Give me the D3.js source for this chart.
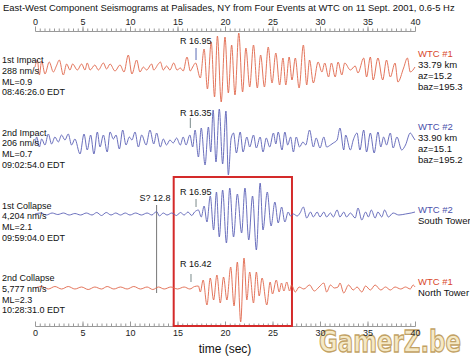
<!DOCTYPE html>
<html><head><meta charset="utf-8">
<script src="https://cdn.jsdelivr.net/npm/d3@7"></script>
<style>
body{margin:0;background:#fff;}
svg{display:block;font-family:"Liberation Sans",Arial,Helvetica,sans-serif;}
</style></head>
<body><svg id="c" width="470" height="360"></svg>
<script>
// ---------- data ----------
const title = "East-West Component Seismograms at Palisades, NY from Four Events at WTC on 11 Sept. 2001, 0.6-5 Hz";
const majorTicks = [0,5,10,15,20,25,30,35,40];
const eventNames = ["1st Impact","2nd Impact","1st Collapse","2nd Collapse"];
const peakAmps = ["288 nm/s","206 nm/s","4,204 nm/s","5,777 nm/s"];
const magnitudes = ["ML=0.9","ML=0.7","ML=2.1","ML=2.3"];
const originTimes = ["08:46:26.0 EDT","09:02:54.0 EDT","09:59:04.0 EDT","10:28:31.0 EDT"];
const sourceNames = ["WTC #1","WTC #2","WTC #2","WTC #1"];
const sourceInfo = [["33.79 km","az=15.2","baz=195.3"],["33.90 km","az=15.1","baz=195.2"],["South Tower"],["North Tower"]];
const rPicks = [16.95,16.35,16.95,16.42];
const sPick = 12.8;
const highlight = [14.6,27.05];

// waveforms: [time (s), relative amplitude]
const impact1Wave = [[0,0],[0.25,7],[0.46,-8],[0.7,6],[1.05,-7],[1.5,5],[1.93,-5],[2.25,1],[2.56,7],[2.98,-8],[3.33,3],[3.68,-3],[3.96,3],[4.46,-3],[4.91,3],[5.26,-3],[5.5,4],[5.8,-3],[6.3,2],[6.67,-3],[7.2,4],[7.54,-2],[7.9,3],[8.42,-4],[8.95,2],[9.37,-5],[9.82,12],[10.2,-7],[10.7,7],[11.05,-5],[11.4,0],[11.75,-3],[12.28,3],[12.5,-3],[12.98,3],[13.2,5],[13.5,-3],[13.85,1],[14.2,-3],[14.6,4],[14.95,-3],[15.3,-1],[15.6,-4],[16.0,10],[16.35,-4],[16.6,0],[16.9,4],[17.4,-11],[17.8,18],[18.15,-22],[18.55,25],[18.9,-30],[19.2,31],[19.6,-35],[20.0,30],[20.35,-26],[20.7,22],[21.05,-28],[21.45,34],[21.85,-25],[22.2,19],[22.6,-20],[23.0,22],[23.4,-21],[23.75,12],[24.15,-20],[24.55,20],[24.95,-16],[25.35,14],[25.75,-18],[26.1,9],[26.4,-18],[26.75,10],[27.05,-13],[27.4,9],[27.8,-21],[28.25,22],[28.6,-18],[28.9,7],[29.3,-16],[29.8,5],[30.2,-5],[30.5,4],[30.9,-10],[31.2,4],[31.6,-10],[31.9,5],[32.3,-8],[32.6,4],[33.2,-3],[33.7,1],[34.0,-6],[34.6,9],[34.9,-10],[35.3,10],[35.6,-13],[36.1,9],[36.6,-13],[37.0,7],[37.4,-10],[37.9,4],[38.2,-15],[38.8,-1],[39.2,9],[39.5,-5],[40,0]];
const impact2Wave = [[0,-3],[0.18,5],[0.46,-5],[0.7,3],[1.05,-3],[1.4,8],[1.75,-2],[2.1,5],[2.45,0],[2.8,7],[3.15,2],[3.5,8],[3.85,-3],[4.2,3],[4.74,-12],[5.16,8],[5.5,-8],[5.86,7],[6.2,-12],[6.56,10],[6.84,-5],[7.2,7],[7.6,-10],[7.9,10],[8.25,3],[8.53,7],[8.88,-7],[9.23,12],[9.58,-3],[9.93,5],[10.2,2],[10.53,10],[10.88,-5],[11.23,7],[11.7,-3],[12.1,12],[12.5,-2],[12.8,9],[13.2,-5],[13.5,3],[13.85,-3],[14.2,2],[14.55,-1],[14.9,4],[15.3,-3],[15.6,5],[15.9,-3],[16.3,7],[16.6,-5],[16.85,12],[17.2,-15],[17.5,14],[17.9,-23],[18.25,15],[18.5,-10],[18.75,32],[19.05,-20],[19.4,33],[19.75,-22],[20.1,31],[20.35,-33],[20.65,4],[20.9,9],[21.2,-11],[21.6,10],[21.9,-10],[22.3,5],[22.6,-5],[23.0,7],[23.3,-6],[23.7,5],[24.0,-10],[24.35,4],[24.7,-5],[25.1,9],[25.35,-2],[25.6,10],[26.0,-8],[26.3,10],[26.6,-3],[26.9,5],[27.2,-10],[27.5,5],[27.85,-5],[28.2,0],[28.5,-3],[28.9,12],[29.3,-5],[29.6,4],[30.0,-6],[30.4,5],[30.7,-5],[31.1,-3],[31.4,-1],[31.8,2],[32.1,14],[32.5,-8],[32.7,7],[33.2,-8],[33.5,2],[33.9,9],[34.2,-8],[34.6,12],[34.9,-10],[35.3,9],[35.7,-11],[36.1,10],[36.4,-5],[36.7,5],[37.0,-3],[37.4,9],[37.7,-6],[38.1,5],[38.6,-8],[39.0,-3],[39.5,9],[39.8,5],[40,2]];
const collapse1Wave = [[0,0],[0.6,1],[1.2,-1],[1.8,1],[2.4,-0.5],[3.0,1],[3.6,-1],[4.2,0.5],[4.8,-1],[5.4,1],[6.0,-1],[6.5,1.5],[7.0,-1.5],[7.5,1.5],[8.0,-1],[8.5,1],[9.0,-1],[9.5,1],[10.0,-1],[10.6,1],[11.2,-1],[11.8,1],[12.3,-1],[12.8,2.5],[13.1,-2],[13.5,1],[13.9,-1],[14.4,1],[14.9,-1.5],[15.3,1.5],[15.7,-1],[16.1,2],[16.5,-1.5],[16.8,2],[17.2,4],[17.5,-3],[17.8,8],[18.1,-8],[18.45,18],[18.8,-16],[19.1,22],[19.4,-23],[19.75,24],[20.15,-29],[20.5,26],[20.9,-23],[21.3,20],[21.75,-19],[22.1,26],[22.5,-26],[22.9,18],[23.3,-36],[23.7,31],[24.0,-16],[24.45,22],[24.85,-12],[25.25,12],[25.6,-9],[25.96,7],[26.3,-8],[26.65,2],[26.9,-2],[27.2,0],[27.6,-2],[27.9,1],[28.25,7],[28.6,-4],[29.0,2],[29.3,-3],[29.7,2],[30.0,-3],[30.4,2],[30.7,-3],[31.1,1],[31.4,-3],[31.8,4],[32.1,-3],[32.5,2],[32.8,-3],[33.2,1],[33.7,-4],[34.0,6],[34.4,-6],[34.8,2],[35.1,-3],[35.4,4],[35.8,-4],[36.1,2],[36.5,-3],[36.8,4],[37.2,-3],[37.7,1],[38.3,-1],[39.0,0],[39.6,1],[40,2]];
const collapse2Wave = [[0,0],[0.7,1.5],[1.4,-1],[2.1,1.5],[2.8,-1],[3.5,1.5],[4.2,-1],[4.9,1],[5.6,-1.5],[6.3,1],[7.0,-1],[7.6,1.5],[8.3,-1],[9.0,1],[9.7,-1],[10.4,1.5],[11.1,-1],[11.8,1],[12.4,-1.5],[13.0,1],[13.6,-1],[14.3,1],[15.0,-1],[15.7,1],[16.3,-1],[16.8,1.5],[17.2,2],[17.4,-4],[17.7,8],[18.1,-17],[18.45,10],[18.8,-12],[19.15,13],[19.5,-15],[19.85,11],[20.2,-12],[20.6,21],[20.95,-18],[21.3,26],[21.65,-34],[22.0,30],[22.3,-12],[22.6,16],[23.0,-15],[23.3,16],[23.6,-8],[23.9,10],[24.4,-17],[24.75,6],[25.0,-6],[25.4,8],[25.7,-4],[25.95,5],[26.2,-3],[26.5,6],[26.8,-3],[27.0,3],[27.4,-4],[27.8,1],[28.3,-1],[28.9,3],[29.4,-3],[29.9,1],[30.4,5],[30.7,-4],[31.1,3],[31.5,0],[31.9,1],[32.1,5],[32.5,-5],[33.0,3],[33.5,-2],[33.9,1],[34.4,-4],[34.8,2],[35.3,-2],[35.8,3],[36.4,-2],[36.9,1],[37.4,-2],[37.9,1],[38.5,-1],[39.0,1],[39.5,-1],[39.8,3],[40,1]];

// ---------- layout ----------
const RED = "#e0654a", BLUE = "#5a60b5";
const waves = [impact1Wave, impact2Wave, collapse1Wave, collapse2Wave];
const colors = [RED, BLUE, BLUE, RED];
const centers = [67, 142, 214, 288];
const leftLabelY = [60, 132.5, 205.5, 278];
const rightLabelY = [53.5, 126.5, 209.5, 282];
const rLabelY = [41, 113, 192, 264];
const rTick = [[48,60],[118,128],[199,207],[274,282]];

const svg = d3.select("#c");
const x = d3.scaleLinear().domain([0,40]).range([35,415]);

// watermark (drawn first, beneath everything); sized to fit 142px wide, stretched vertically
const wm = svg.append("g").attr("transform","translate(319,352) scale(1,1.3)");
const wmt = wm.append("text").attr("x",0).attr("y",0).attr("font-size",20).attr("font-weight","bold")
  .attr("font-family","DejaVu Sans, sans-serif")
  .attr("fill","#f4e6bd").attr("stroke","#b8924a").attr("stroke-width",1).attr("opacity",0.85).text("GamerZ.be");
wmt.attr("font-size", 20 * 142 / wmt.node().getComputedTextLength());

const tt = svg.append("text").attr("x",3).attr("y",10.5).attr("font-size",10).attr("fill","#111").text(title);
const tw = tt.node().getComputedTextLength();
tt.attr("font-size", 10 * 452 / tw);

// axes
function drawAxis(y, top){
  const minor = d3.range(0,40.01,0.5);
  const gMin = svg.append("g").attr("transform",`translate(0,${y})`)
    .call((top?d3.axisTop(x):d3.axisBottom(x)).tickValues(minor).tickSizeInner(top?2.5:-2.5).tickSizeOuter(0).tickFormat(""));
  const gMaj = svg.append("g").attr("transform",`translate(0,${y})`)
    .call((top?d3.axisTop(x):d3.axisBottom(x)).tickValues(majorTicks).tickSizeInner(top?4.5:-4.5).tickSizeOuter(0).tickPadding(top?1.5:4));
  [gMin,gMaj].forEach(g=>{
    g.select(".domain").attr("stroke","#999");
    g.selectAll(".tick line").attr("stroke","#999");
    g.selectAll("text").attr("font-size",9).attr("fill","#222").attr("font-family","Liberation Sans, Arial, sans-serif");
  });
}
drawAxis(31, true);
drawAxis(326, false);

svg.append("text").attr("x",x(20)).attr("y",353).attr("text-anchor","middle")
  .attr("font-size",12).attr("fill","#111").text("time (sec)");

// highlight box
svg.append("rect").attr("x",x(highlight[0])).attr("y",177)
  .attr("width",x(highlight[1])-x(highlight[0])).attr("height",326-177)
  .attr("fill","none").attr("stroke","#d42a2a").attr("stroke-width",2);

// S pick line
svg.append("line").attr("x1",x(sPick)).attr("x2",x(sPick)).attr("y1",205).attr("y2",293)
  .attr("stroke","#777").attr("stroke-width",1);
svg.append("text").attr("x",x(sPick)-17).attr("y",201).attr("font-size",9).attr("fill","#111").text("S? " + sPick);

// traces
waves.forEach((w,i)=>{
  const y = d3.scaleLinear().domain([-36,36]).range([centers[i]+36, centers[i]-36]);
  const line = d3.line().x(d=>x(d[0])).y(d=>y(d[1])).curve(d3.curveMonotoneX);
  svg.append("path").datum(w).attr("d",line).attr("fill","none")
    .attr("stroke",colors[i]).attr("stroke-width",0.9).attr("stroke-linejoin","round");

  const L = [eventNames[i], peakAmps[i], magnitudes[i], originTimes[i]];
  L.forEach((s,k)=>{
    svg.append("text").attr("x",2).attr("y",leftLabelY[i]+3.3+k*10.6).attr("font-size",9).attr("fill","#111").text(s);
  });
  svg.append("text").attr("x",418).attr("y",rightLabelY[i]+3.3).attr("font-size",9.5).attr("fill",colors[i]==RED?"#d9472b":"#4a50aa").text(sourceNames[i]);
  sourceInfo[i].forEach((s,k)=>{
    svg.append("text").attr("x",418).attr("y",rightLabelY[i]+3.3+(k+1)*10.9).attr("font-size",9.5).attr("fill","#111").text(s);
  });
  svg.append("text").attr("x",180).attr("y",rLabelY[i]+3.3).attr("font-size",9).attr("fill","#111").text("R " + rPicks[i].toFixed(2));
  svg.append("line").attr("x1",x(rPicks[i])).attr("x2",x(rPicks[i])).attr("y1",rTick[i][0]).attr("y2",rTick[i][1])
    .attr("stroke", i==0 ? "#5a6ab5" : "#7a8a8a").attr("stroke-width",1);
});
</script></body></html>
